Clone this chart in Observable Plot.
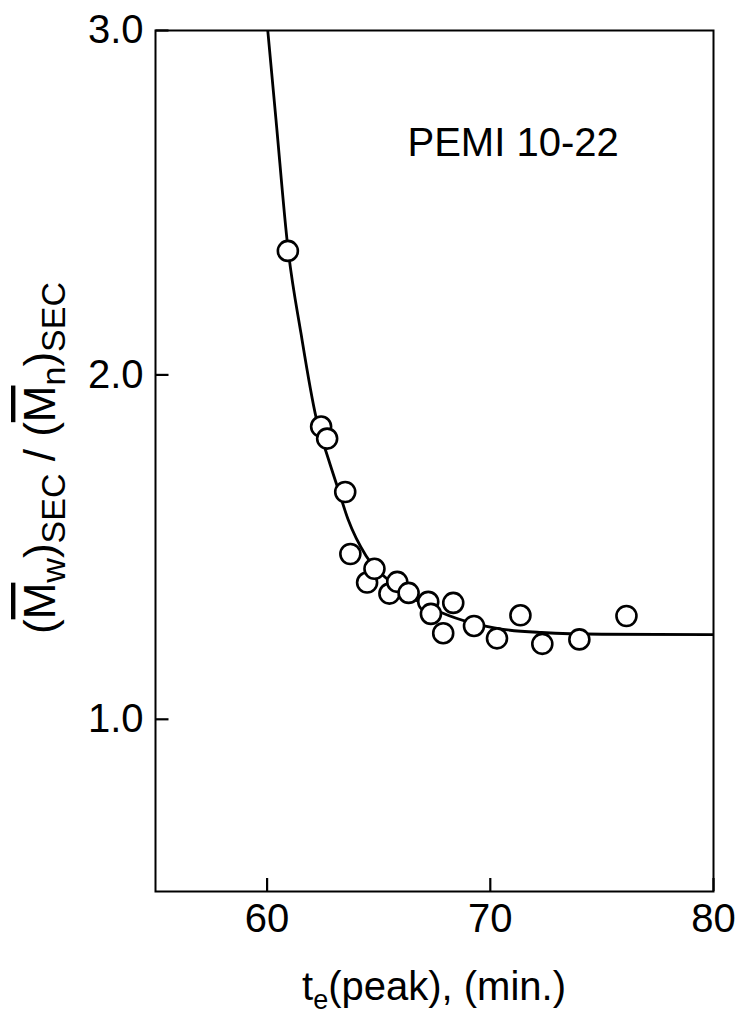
<!DOCTYPE html>
<html>
<head>
<meta charset="utf-8">
<script src="https://cdn.jsdelivr.net/npm/d3@7"></script>
<script src="https://cdn.jsdelivr.net/npm/@observablehq/plot@0.6"></script>
<style>
  html, body { margin: 0; padding: 0; background: #fff; }
  #chart svg { display: block; }
</style>
</head>
<body>
<div id="chart"></div>
<script>
// Measured points: elution time at peak (min) vs polydispersity ratio
const te = [60.93, 62.42, 62.69, 63.50, 63.73, 64.48, 64.81, 65.48, 65.83, 66.34,
            67.22, 67.34, 67.89, 68.34, 69.27, 70.30, 71.35, 72.33, 73.99, 76.10];
const ratio = [2.36, 1.85, 1.815, 1.66, 1.48, 1.397, 1.437, 1.365, 1.399, 1.367,
               1.341, 1.306, 1.25, 1.338, 1.271, 1.235, 1.302, 1.219, 1.232, 1.30];

// Fitted curve
const curveT = [60.03, 60.4, 60.93, 61.52, 62.2, 62.75, 63.2, 63.63, 64.43, 65.33,
                66.45, 67.8, 69.15, 70.49, 72.3, 75.0, 80.0];
const curveR = [3.0, 2.74, 2.37, 2.12, 1.875, 1.755, 1.665, 1.58, 1.475, 1.41,
                1.355, 1.31, 1.28, 1.262, 1.252, 1.247, 1.246];

const xTicks = [60, 70, 80];
const yTicks = [1.0, 2.0, 3.0];
const labelText = ["PEMI 10-22"];
const labelPos = {t: 66.29, r: 2.637};

const points = te.map((t, i) => ({t, r: ratio[i]}));
const curve = curveT.map((t, i) => ({t, r: curveR[i]}));

const font = "'Liberation Sans', Arial, Helvetica, sans-serif";
const W = 744, H = 1018, ML = 155, MR = 31, MT = 30, MB = 127, TICK = 13;
const xDomain = [55, 80], yDomain = [0.5, 3.0];
const xTickLen = (xDomain[1] - xDomain[0]) * TICK / (W - ML - MR);

const chart = Plot.plot({
  width: W,
  height: H,
  marginLeft: ML,
  marginRight: MR,
  marginTop: MT,
  marginBottom: MB,
  style: {fontFamily: font, fontSize: "40px", color: "black", background: "white"},
  x: {domain: xDomain, label: null},
  y: {domain: yDomain, label: null},
  marks: [
    Plot.frame({stroke: "black", strokeWidth: 2}),
    Plot.axisX({ticks: xTicks, tickSize: 0, tickPadding: 12, tickFormat: d => String(d), fontSize: 40, label: null}),
    Plot.axisY({ticks: yTicks, tickSize: 0, tickPadding: 12, tickFormat: d => d.toFixed(1), fontSize: 40, label: null}),
    Plot.line(curve, {x: "t", y: "r", curve: "monotone-x", stroke: "black", strokeWidth: 2.8, clip: true}),
    Plot.dot(points, {x: "t", y: "r", r: 10, stroke: "black", strokeWidth: 2.6, fill: "white"}),
    Plot.text(labelText, {x: () => labelPos.t, y: () => labelPos.r, text: d => d, textAnchor: "start", lineAnchor: "bottom", fontSize: 40, fill: "black"}),
    // inward tick marks
    Plot.tickX(xTicks, {x: d => d, stroke: "black", strokeWidth: 2.2, insetTop: (H - MT - MB) - TICK}),
    Plot.link(yTicks, {y1: d => d, y2: d => d, x1: () => xDomain[0], x2: () => xDomain[0] + xTickLen, stroke: "black", strokeWidth: 2.2})
  ]
});

document.getElementById("chart").appendChild(chart);

// Axis titles with subscripts / overlines
const svg = d3.select(chart);
const cx = (ML + W - MR) / 2;
const xl = svg.append("text")
  .attr("x", cx).attr("y", 1000)
  .attr("text-anchor", "middle")
  .style("font-family", font).style("font-size", "40px").attr("fill", "black");
xl.append("tspan").text("t");
xl.append("tspan").attr("dy", 9).style("font-size", "27px").text("e");
xl.append("tspan").attr("dy", -9).text("(peak), (min.)");

const cy = 458;
const yl = svg.append("text")
  .attr("transform", `translate(55,${cy}) rotate(-90)`)
  .attr("text-anchor", "middle")
  .style("font-family", font).style("font-size", "44px").attr("fill", "black");
yl.append("tspan").text("(");
yl.append("tspan").style("text-decoration", "overline").text("M");
yl.append("tspan").attr("dy", 10).style("font-size", "34px").text("w");
yl.append("tspan").attr("dy", -10).text(")");
yl.append("tspan").attr("dy", 10).style("font-size", "34px").text("SEC");
yl.append("tspan").attr("dy", -10).text(" / (");
yl.append("tspan").style("text-decoration", "overline").text("M");
yl.append("tspan").attr("dy", 10).style("font-size", "34px").text("n");
yl.append("tspan").attr("dy", -10).text(")");
yl.append("tspan").attr("dy", 10).style("font-size", "34px").text("SEC");
</script>
</body>
</html>
